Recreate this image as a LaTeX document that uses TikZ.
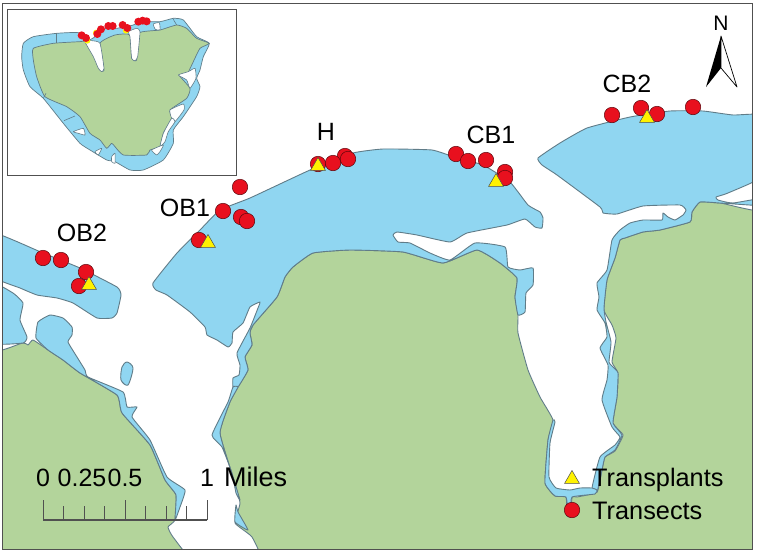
\documentclass[tikz,border=0pt]{standalone}
\usepackage{fontspec}
\setmainfont{Liberation Sans}
\usetikzlibrary{shapes.geometric, positioning}
\definecolor{land}{RGB}{179,212,155}
\definecolor{water}{RGB}{144,214,241}
\definecolor{shore}{RGB}{96,124,136}
\definecolor{dotred}{RGB}{232,16,30}
\definecolor{tri}{RGB}{255,242,0}
\definecolor{framegray}{RGB}{80,80,80}
\tikzset{
  lagoon/.style={fill=water,draw=shore,line width=.9pt,line join=round},
  sea/.style={fill=white,draw=shore,line width=.9pt,line join=round},
  transect/.style={circle,fill=dotred,draw=black!60!dotred,line width=.5pt,minimum size=15.5pt,inner sep=0pt},
  transplant/.style={regular polygon,regular polygon sides=3,fill=tri,draw=black!70,line width=.5pt,minimum size=17pt,inner sep=0pt},
  sitelabel/.style={anchor=base,inner sep=0pt,font=\fontsize{25}{27}\selectfont},
  legendlabel/.style={anchor=base west,inner sep=0pt,font=\fontsize{25.3}{26}\selectfont},
  barline/.style={draw=framegray,line width=.9pt},
}
\begin{document}
\begin{tikzpicture}[x=1pt,y=-1pt]
\useasboundingbox (0,0) rectangle (758,552);
\fill[white] (0,0) rectangle (758,552);

\begin{scope}
\clip (2,3) rectangle (752,549);
\fill[land] (2,3) rectangle (752,549);
% the sea, cut out of the land
\draw[sea] plot[smooth cycle,tension=.25] coordinates {(-30,-30) (790,-30) (790,206) (720,203) (700,202) (692,212) (690,222) (660,230) (643,232) (625,238) (620,240) (615,258) (607,280) (604,310) (612,325) (616,338) (612,362) (618,373) (617,397) (613,423) (623,435) (615,451) (605,457) (602,470) (597,492) (577,497) (572,497) (571,516) (567,516) (566,497) (555,496) (545,483) (548,440) (553,420) (540,397) (528,370) (518,333) (518,315) (515,297) (517,278) (500,263) (477,250) (443,263) (403,252) (350,250) (313,253) (293,267) (285,277) (277,297) (253,325) (250,333) (252,345) (245,357) (248,370) (238,387) (230,402) (220,433) (233,477) (240,503) (235,523) (252,537) (262,565) (198,565) (173,537) (168,527) (175,520) (176,495) (165,480) (150,445) (122,413) (117,395) (80,373) (63,360) (48,350) (33,340) (28,345) (23,343) (-30,341)};
% OB2 lagoon
\draw[lagoon] plot[smooth cycle,tension=.25] coordinates {(-10,232) (43,253) (80,268) (117,287) (121,295) (117,313) (112,318) (97,318) (73,303) (57,298) (37,295) (20,288) (-10,275)};
\draw[lagoon] plot[smooth cycle,tension=.25] coordinates {(-10,283) (13,293) (23,303) (20,320) (27,337) (23,343) (-10,342)};
\draw[lagoon] plot[smooth cycle,tension=.25] coordinates {(38,322) (50,315) (63,318) (72,327) (72,335) (68,342) (77,357) (85,370) (88,377) (123,392) (127,407) (137,407) (132,417) (150,440) (167,477) (185,490) (180,507) (175,520) (176,495) (165,480) (150,445) (122,413) (117,395) (80,373) (63,360) (48,350) (36,338)};
\draw[lagoon] plot[smooth cycle,tension=.5] coordinates {(127,362) (133,368) (128,385) (121,380) (122,367)};
% main lagoon
\draw[lagoon] plot[smooth cycle,tension=.25] coordinates {(153,283) (177,253) (200,230) (220,210) (250,198) (310,170) (353,153) (383,149) (432,150) (457,158) (483,165) (510,182) (528,205) (540,212) (543,218) (542,228) (535,227) (525,219) (507,225) (467,233) (450,242) (417,235) (397,232) (393,235) (398,242) (410,243) (430,253) (450,260) (475,243) (505,247) (508,267) (520,270) (533,268) (533,285) (526,293) (525,312) (518,315) (515,297) (517,278) (500,263) (477,250) (443,263) (403,252) (350,250) (313,253) (293,267) (285,277) (277,297) (253,325) (250,333) (252,345) (245,357) (248,370) (238,387) (233,387) (233,378) (239,375) (240,365) (237,353) (250,328) (258,308) (260,302) (250,307) (243,323) (233,332) (232,343) (228,347) (217,340) (207,335) (205,327) (190,312) (167,295) (156,290)};
\draw[lagoon] plot[smooth cycle,tension=.25] coordinates {(233,387) (228,402) (212,435) (222,447) (232,473) (236,493) (240,500) (233,477) (220,433) (230,402) (238,387)};
\draw[lagoon] plot[smooth cycle,tension=.25] coordinates {(236,505) (235,522) (248,530) (238,512)};
% CB2 lagoon and the east shore
\draw[lagoon] plot[smooth cycle,tension=.25] coordinates {(538,158) (560,143) (587,128) (630,117) (670,111) (703,111) (733,115) (770,116) (770,172) (728,193) (716,197) (718,200) (733,203) (770,197) (770,206) (720,203) (700,202) (692,212) (690,222) (660,230) (643,232) (625,238) (620,240) (615,258) (607,280) (604,308) (606,322) (611,342) (609,362) (613,367) (618,373) (617,397) (613,423) (622,435) (615,450) (605,457) (602,470) (597,492) (592,488) (600,457) (615,445) (620,437) (612,427) (602,400) (607,380) (608,365) (600,348) (607,337) (605,323) (597,310) (599,297) (597,283) (607,270) (612,240) (620,230) (630,223) (643,220) (662,220) (663,213) (668,217) (675,220) (683,215) (686,210) (680,205) (643,206) (617,214) (603,213) (600,207) (557,175) (542,165)};
\draw[lagoon] plot[smooth cycle,tension=.25] coordinates {(553,420) (548,440) (545,483) (555,496) (566,497) (568,510) (571,510) (572,497) (595,494) (597,490) (592,488) (580,488) (570,490) (556,488) (549,477) (550,443) (555,422)};
\end{scope}
\draw[framegray,line width=1pt] (2,3) rectangle (752,549);

% transects and transplants
\foreach \px/\py/\nm in {43/258/a,61/260/b,86/272/c,79/286/d,223/211/e,240/187/f,241/217/g,247/221/h,199/240/i,318/164/j,345/156/k,333/163/l,348/159/m,456/154/n,468/161/o,486/160/p,505/172/q,505/178/r,612/115/s,641/108/t,657/114/u,693/107/v}
  \node[transect] (t\nm) at (\px,\py) {};
\foreach \px/\py/\nm in {89/285/a,208/243/b,318/166/c,496/182/d,647/118/e}
  \node[transplant] (p\nm) at (\px,\py) {};

\node[sitelabel] (ob2) at (82,241) {OB2};
\node[sitelabel] (ob1) at (185,216) {OB1};
\node[sitelabel] (h) at (326,140) {H};
\node[sitelabel] (cb1) at (491,143) {CB1};
\node[sitelabel] (cb2) at (627,92) {CB2};

% inset
\begin{scope}[x=.3333pt,y=-.3333pt]
\draw[framegray,fill=white,line width=.8pt] (22,28) rectangle (710,525);
\draw[lagoon,line width=.7pt] plot[smooth cycle,tension=.3] coordinates {(65,170) (70,130) (100,110) (170,100) (235,98) (265,120) (285,110) (300,85) (350,85) (400,75) (420,65) (480,65) (520,55) (550,60) (590,110) (628,130) (610,170) (600,210) (590,235) (600,260) (590,290) (550,350) (520,390) (520,430) (490,480) (430,510) (390,510) (345,485) (320,480) (270,450) (240,430) (190,370) (130,295) (90,260) (70,210)};
\draw[draw=shore,fill=land,line width=.7pt,line join=round] plot[smooth cycle,tension=.3] coordinates {(100,145) (160,130) (240,125) (262,125) (285,175) (300,210) (312,210) (300,130) (345,105) (390,105) (395,175) (410,180) (415,100) (480,90) (530,75) (560,85) (590,115) (628,130) (600,145) (580,185) (560,225) (537,225) (570,265) (560,295) (510,330) (515,355) (490,400) (480,440) (450,450) (440,465) (370,465) (345,440) (335,430) (320,445) (300,420) (270,400) (240,350) (200,320) (135,290) (110,230) (100,180)};
% channels through the reef
\draw[sea,line width=.6pt] plot[smooth cycle,tension=.3] coordinates {(255,125) (275,122) (300,130) (312,205) (305,215) (295,205) (280,170)};
\draw[sea,line width=.6pt] plot[smooth cycle,tension=.3] coordinates {(385,95) (410,85) (420,95) (413,170) (405,182) (395,175) (390,110)};
\draw[sea,line width=.6pt] plot[smooth cycle,tension=.3] coordinates {(535,225) (565,215) (585,205) (588,235) (570,265) (560,240)};
\draw[sea,line width=.6pt] plot[smooth cycle,tension=.3] coordinates {(510,330) (550,312) (552,330) (525,365) (515,355)};
\draw[sea,line width=.6pt] plot[smooth cycle,tension=.3] coordinates {(490,400) (515,355) (525,365) (505,395) (495,425) (480,440)};
\draw[sea,line width=.6pt] plot[smooth cycle,tension=.3] coordinates {(455,450) (490,435) (480,455) (470,465)};
\draw[sea,line width=.6pt] plot[smooth cycle,tension=.3] coordinates {(220,395) (250,385) (255,405) (235,400)};
\draw[sea,line width=.6pt] plot[smooth cycle,tension=.3] coordinates {(285,455) (305,445) (295,465)};
\draw[sea,line width=.6pt] plot[smooth cycle,tension=.3] coordinates {(335,470) (345,460) (345,490) (335,485)};
\draw[sea,line width=.6pt] plot[smooth cycle,tension=.3] coordinates {(460,72) (478,68) (480,90) (466,88)};
\draw[shore,line width=.6pt] (130,295) -- (138,280);
\draw[shore,line width=.6pt] (170,100) -- (170,130);
\draw[shore,line width=.6pt] (192,362) -- (225,348);
\draw[shore,line width=.6pt] (520,58) -- (530,75);
\foreach \px/\py/\nm in {262/122/a,288/98/b,378/92/c}
  \fill[tri] (\px,\py) circle (9);
\foreach \px/\py/\nm in {245/106/a,258/114/b,292/102/c,303/88/d,325/78/e,338/78/f,368/75/g,382/84/h,415/65/i,428/62/j,440/64/k}
  \fill[dotred] (\px,\py) circle (12);
\end{scope}

% north arrow
\node[anchor=base,inner sep=0pt,font=\fontsize{21}{22}\selectfont] (north) at (721,30) {N};
\coordinate (nTip) at (721,36);
\coordinate (nNotch) at (721,68);
\fill[black] (nTip) -- (706,87) -- (nNotch) -- cycle;
\draw[black,fill=white,line width=.7pt,line join=round] (nTip) -- (737,87) -- (nNotch) -- cycle;

% scale bar
\foreach \tx in {0,1,...,8} {
  \draw[barline] ({43+\tx*20.5},520) -- ({43+\tx*20.5},506);
}
\foreach \tx in {0,4,8} {
  \draw[barline] ({43+\tx*20.5},520) -- ({43+\tx*20.5},500);
}
\draw[barline,line width=1.1pt] (43,520) -- (207,520);
\node[sitelabel] (s0) at (43,486) {0};
\node[sitelabel] (s1) at (82,486) {0.25};
\node[sitelabel] (s2) at (125,486) {0.5};
\node[sitelabel] (s3) at (207,486) {1};
\node[anchor=base west,inner sep=0pt,font=\fontsize{27}{28}\selectfont] (miles) at (224,486) {Miles};

% legend
\node[transplant] (lp) at (572,479) {};
\node[transect] (lt) at (572,510) {};
\node[legendlabel] (lpt) at (592,486) {Transplants};
\node[legendlabel] (ltt) at (592,519) {Transects};
\end{tikzpicture}
\end{document}
